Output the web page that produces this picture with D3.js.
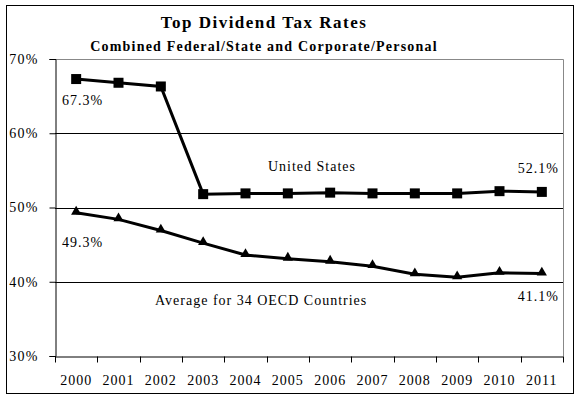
<!DOCTYPE html>
<html>
<head>
<meta charset="utf-8">
<script src="https://cdn.jsdelivr.net/npm/d3@7"></script>
<style>
  body { margin: 0; background: #fff; }
  text { font-family: "Liberation Serif", "Times New Roman", serif; fill: #000; }
</style>
</head>
<body>
<script>
// data
var years = ['2000','2001','2002','2003','2004','2005','2006','2007','2008','2009','2010','2011'];
var usRates = [67.3, 66.8, 66.3, 51.8, 51.9, 51.9, 52.0, 51.9, 51.9, 51.9, 52.2, 52.1];
var oecdRates = [49.3, 48.4, 46.9, 45.2, 43.6, 43.1, 42.7, 42.1, 41.0, 40.6, 41.2, 41.1];
var yTicks = [30, 40, 50, 60, 70];

var width = 581, height = 399;
var margin = {top: 59, right: 18, bottom: 43, left: 55};
var serif = '"Liberation Serif", "Times New Roman", serif';

var svg = d3.select('body').append('svg').attr('width', width).attr('height', height);

// outer frame
svg.append('rect').attr('x', 6.5).attr('y', 5.5).attr('width', 567).attr('height', 388)
   .attr('fill', 'none').attr('stroke', '#000').attr('stroke-width', 1);

var x = d3.scaleBand().domain(years).range([margin.left, width - margin.right]);
var y = d3.scaleLinear().domain([30, 70]).range([height - margin.bottom, margin.top]);

// plot border top/right (gray)
svg.append('path')
   .attr('d', 'M' + x.range()[0] + ',' + (y(70) + 0.5) + 'H' + (x.range()[1] + 0.5) + 'V' + y(30))
   .attr('fill', 'none').attr('stroke', '#888');

// gridlines
svg.append('g').selectAll('line').data([40, 50, 60]).enter().append('line')
   .attr('x1', x.range()[0]).attr('x2', x.range()[1])
   .attr('y1', function (d) { return Math.round(y(d)) + 0.5; })
   .attr('y2', function (d) { return Math.round(y(d)) + 0.5; })
   .attr('stroke', '#000');

// y axis
var yAxis = svg.append('g').attr('transform', 'translate(' + (margin.left + 0.5) + ',0)')
   .attr('font-family', serif)
   .call(d3.axisLeft(y).tickValues(yTicks).tickSize(6).tickFormat(function (d) { return d + '%'; }));
yAxis.selectAll('text').attr('x', -17).attr('font-size', 14).attr('letter-spacing', 1.2);
yAxis.select('.domain').attr('stroke', '#000');

// x axis
var xAxis = svg.append('g').attr('transform', 'translate(0,' + (y(30) + 0.5) + ')')
   .attr('font-family', serif)
   .call(d3.axisBottom(x).tickSize(0));
xAxis.selectAll('.tick text').attr('y', 19).attr('font-size', 14).attr('letter-spacing', 1);
xAxis.selectAll('.bound').data(d3.range(years.length + 1)).enter().append('line')
   .attr('x1', function (i) { return Math.round(x.range()[0] + i * x.bandwidth()) + 0.5; })
   .attr('x2', function (i) { return Math.round(x.range()[0] + i * x.bandwidth()) + 0.5; })
   .attr('y1', 0).attr('y2', 6).attr('stroke', '#000');

function cx(d, i) { return x(years[i]) + x.bandwidth() / 2; }

var line = d3.line().x(cx).y(function (d) { return y(d); });

// US series
svg.append('path').datum(usRates).attr('d', line)
   .attr('fill', 'none').attr('stroke', '#000').attr('stroke-width', 3);
svg.append('g').selectAll('rect').data(usRates).enter().append('rect')
   .attr('x', function (d, i) { return cx(d, i) - 5; })
   .attr('y', function (d) { return y(d) - 5; })
   .attr('width', 10).attr('height', 10).attr('fill', '#000');

// OECD series
svg.append('path').datum(oecdRates).attr('d', line)
   .attr('fill', 'none').attr('stroke', '#000').attr('stroke-width', 3);
svg.append('g').selectAll('path.tri').data(oecdRates).enter().append('path')
   .attr('class', 'tri')
   .attr('d', d3.symbol().type(d3.symbolTriangle).size(45))
   .attr('transform', function (d, i) { return 'translate(' + cx(d, i) + ',' + (y(d) - 1) + ')'; })
   .attr('fill', '#000');

// titles
svg.append('text').attr('x', 264).attr('y', 28).attr('text-anchor', 'middle')
   .attr('font-size', 17).attr('font-weight', 'bold').attr('letter-spacing', 1.5)
   .text('Top Dividend Tax Rates');
svg.append('text').attr('x', 264).attr('y', 51).attr('text-anchor', 'middle')
   .attr('font-size', 14).attr('font-weight', 'bold').attr('letter-spacing', 1.2)
   .text('Combined Federal/State and Corporate/Personal');

// annotations
function label(txt, px, py, anchor) {
  svg.append('text').attr('x', px).attr('y', py).attr('text-anchor', anchor || 'start')
     .attr('font-size', 14).attr('letter-spacing', 1).text(txt);
}
label(usRates[0].toFixed(1) + '%', x(years[0]) + 7, y(usRates[0]) + 26);
label(oecdRates[0].toFixed(1) + '%', x(years[0]) + 7, y(oecdRates[0]) + 34);
label('United States', 312, 171, 'middle');
label(usRates[11].toFixed(1) + '%', x.range()[1] - 4, 173, 'end');
label('Average for 34 OECD Countries', 155, 305);
label(oecdRates[11].toFixed(1) + '%', x.range()[1] - 4, 301, 'end');
</script>
</body>
</html>
